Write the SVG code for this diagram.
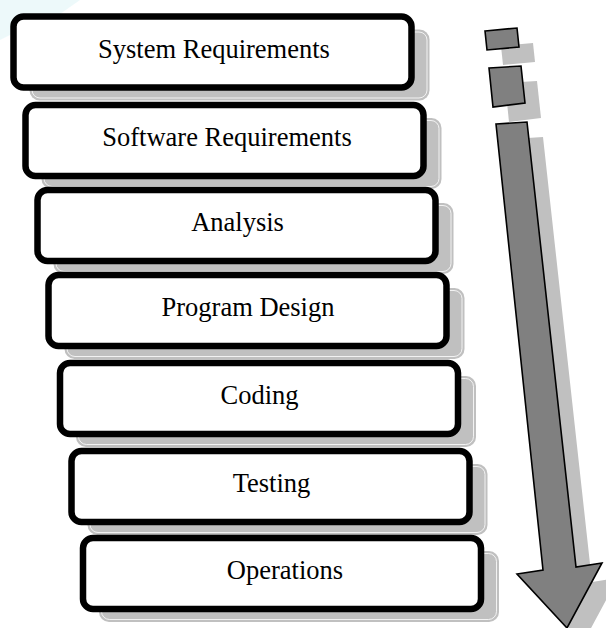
<svg xmlns="http://www.w3.org/2000/svg" width="606" height="628" viewBox="0 0 606 628">
<style>
.shadow{fill:#c0c0c0}
.shline{fill:none;stroke:#ffffff;stroke-width:0.8}
.box{fill:#ffffff;stroke:#000000;stroke-width:6.5}
.lbl{font-family:"Liberation Serif","Times New Roman",serif;font-size:26.5px;fill:#000000;text-anchor:middle}
.ash{fill:#c0c0c0}
.arr{fill:#808080;stroke:#000000;stroke-width:1.6;stroke-linejoin:miter}
</style>
<rect width="606" height="628" fill="#ffffff"/>
<path d="M0,0 L80,0 L60,14 L20,30 L0,40 Z" fill="#e6f6f8" opacity="0.7"/>
<g id="node-system-requirements">
<rect class="shadow" x="29.5" y="29.5" width="400" height="71" rx="10"/>
<rect class="shline" x="32" y="32" width="395" height="66" rx="8"/>
<rect class="box" x="13.5" y="16.5" width="398" height="71" rx="10"/>
<text class="lbl" x="214" y="57.5">System Requirements</text>
</g>
<g id="node-software-requirements">
<rect class="shadow" x="41.5" y="118" width="400" height="71" rx="10"/>
<rect class="shline" x="44" y="120.5" width="395" height="66" rx="8"/>
<rect class="box" x="25.5" y="105" width="398" height="71" rx="10"/>
<text class="lbl" x="227" y="146">Software Requirements</text>
</g>
<g id="node-analysis">
<rect class="shadow" x="53.5" y="203" width="400" height="71" rx="10"/>
<rect class="shline" x="56" y="205.5" width="395" height="66" rx="8"/>
<rect class="box" x="37.5" y="190" width="398" height="71" rx="10"/>
<text class="lbl" x="237.5" y="231">Analysis</text>
</g>
<g id="node-program-design">
<rect class="shadow" x="64.5" y="288" width="400" height="71" rx="10"/>
<rect class="shline" x="67" y="290.5" width="395" height="66" rx="8"/>
<rect class="box" x="48.5" y="275" width="398" height="71" rx="10"/>
<text class="lbl" x="248" y="316">Program Design</text>
</g>
<g id="node-coding">
<rect class="shadow" x="76" y="376" width="400" height="71" rx="10"/>
<rect class="shline" x="78.5" y="378.5" width="395" height="66" rx="8"/>
<rect class="box" x="60" y="363" width="398" height="71" rx="10"/>
<text class="lbl" x="259.5" y="404">Coding</text>
</g>
<g id="node-testing">
<rect class="shadow" x="87.5" y="464" width="400" height="71" rx="10"/>
<rect class="shline" x="90" y="466.5" width="395" height="66" rx="8"/>
<rect class="box" x="71.5" y="451" width="398" height="71" rx="10"/>
<text class="lbl" x="271.5" y="492">Testing</text>
</g>
<g id="node-operations">
<rect class="shadow" x="99" y="551" width="400" height="71" rx="10"/>
<rect class="shline" x="101.5" y="553.5" width="395" height="66" rx="8"/>
<rect class="box" x="83" y="538" width="398" height="71" rx="10"/>
<text class="lbl" x="285" y="579">Operations</text>
</g>
<g id="flow-arrow">
<g transform="translate(16,15)">
<polygon class="ash" points="485,31 517,28 519,47 487,50"/>
<polygon class="ash" points="489,68 521,66 525,103 493,107"/>
<polygon class="ash" points="496,124 527,122 576,567 602,563 567,628 517,574 543,570"/>
</g>
<polygon class="arr" points="485,31 517,28 519,47 487,50"/>
<polygon class="arr" points="489,68 521,66 525,103 493,107"/>
<polygon class="arr" points="496,124 527,122 576,567 602,563 567,628 517,574 543,570"/>
</g>
</svg>
